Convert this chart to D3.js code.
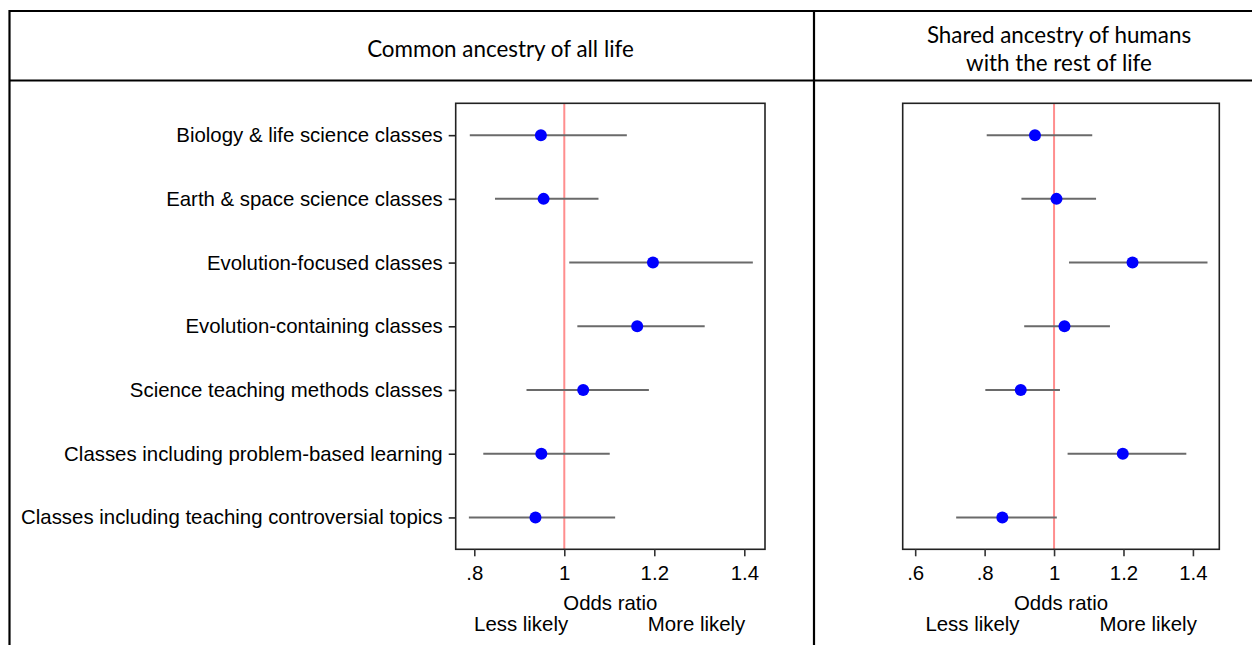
<!DOCTYPE html>
<html>
<head>
<meta charset="utf-8">
<script src="https://cdn.jsdelivr.net/npm/d3@7"></script>
<style>
  html, body { margin: 0; padding: 0; background: #fff; }
  svg { display: block; }
</style>
</head>
<body>
<svg id="chart" width="1252" height="645"></svg>
<script>
const categories = [
  "Biology & life science classes",
  "Earth & space science classes",
  "Evolution-focused classes",
  "Evolution-containing classes",
  "Science teaching methods classes",
  "Classes including problem-based learning",
  "Classes including teaching controversial topics"
];
const leftTitle = ["Common ancestry of all life"];
const rightTitle = ["Shared ancestry of humans", "with the rest of life"];

const leftOR = [0.948, 0.954, 1.197, 1.162, 1.042, 0.949, 0.936];
const leftLo = [0.790, 0.846, 1.011, 1.029, 0.916, 0.820, 0.788];
const leftHi = [1.139, 1.076, 1.419, 1.312, 1.188, 1.101, 1.113];

const rightOR = [0.945, 1.007, 1.226, 1.030, 0.904, 1.198, 0.851];
const rightLo = [0.806, 0.906, 1.043, 0.914, 0.802, 1.039, 0.718];
const rightHi = [1.110, 1.121, 1.442, 1.161, 1.017, 1.381, 1.008];

const leftTicks = [0.8, 1, 1.2, 1.4];
const rightTicks = [0.6, 0.8, 1, 1.2, 1.4];
const leftDomain = [0.7587, 1.446];
const rightDomain = [0.564, 1.476];
const leftHintPos = [0.904, 1.294];
const rightHintPos = [0.765, 1.271];
const xTitle = "Odds ratio";
const hints = ["Less likely", "More likely"];

const svg = d3.select("#chart");
const FONT = "'Liberation Sans', Arial, sans-serif";
const HFONT = "Lato, 'Open Sans', sans-serif";
const FS = 20.4;

// table frame
const frame = svg.append("g").attr("stroke", "#000").attr("stroke-width", 2.2);
frame.append("line").attr("x1", 9.5).attr("x2", 1252).attr("y1", 11).attr("y2", 11);
frame.append("line").attr("x1", 9.5).attr("x2", 1252).attr("y1", 80.5).attr("y2", 80.5);
frame.append("line").attr("x1", 9.5).attr("x2", 9.5).attr("y1", 10).attr("y2", 645);
frame.append("line").attr("x1", 814).attr("x2", 814).attr("y1", 10).attr("y2", 645);

// headers
function header(lines, cx, ys) {
  svg.append("g").selectAll("text").data(lines).join("text")
    .attr("x", cx).attr("y", (d, i) => ys[i])
    .attr("text-anchor", "middle")
    .attr("font-family", HFONT).attr("font-size", 22.4).attr("fill", "#000")
    .text(d => d);
}
header(leftTitle, 500.5, [56.5]);
header(rightTitle, 1059, [43, 70.5]);

const fmt = d => d === 1 ? "1" : String(d).replace(/^0/, "");

function panel(opts) {
  const { x0, x1, domain, ticks, or, lo, hi, showY, hintPos } = opts;
  const top = 103.3, bottom = 549.3;
  const x = d3.scaleLinear().domain(domain).range([x0, x1]);
  const y = d3.scalePoint().domain(categories).range([top, bottom]).padding(0.5);
  const g = svg.append("g");

  // reference line
  g.append("line")
    .attr("x1", x(1)).attr("x2", x(1)).attr("y1", top).attr("y2", bottom)
    .attr("stroke", "#ff8e8e").attr("stroke-width", 2);

  // CIs
  g.append("g").selectAll("line").data(categories).join("line")
    .attr("x1", (d, i) => x(lo[i])).attr("x2", (d, i) => x(hi[i]))
    .attr("y1", d => y(d)).attr("y2", d => y(d))
    .attr("stroke", "#6a6a6a").attr("stroke-width", 2);

  // points
  g.append("g").selectAll("circle").data(categories).join("circle")
    .attr("cx", (d, i) => x(or[i])).attr("cy", d => y(d))
    .attr("r", 6).attr("fill", "#0000ff");

  // box
  g.append("rect").attr("x", x0).attr("y", top).attr("width", x1 - x0).attr("height", bottom - top)
    .attr("fill", "none").attr("stroke", "#222").attr("stroke-width", 1.6);

  // x axis
  const xa = g.append("g").attr("transform", `translate(0,${bottom})`)
    .call(d3.axisBottom(x).tickValues(ticks).tickFormat(fmt).tickSize(7).tickPadding(9));
  xa.select(".domain").remove();
  xa.selectAll(".tick line").attr("stroke", "#333").attr("stroke-width", 1.6);
  xa.selectAll(".tick text").attr("font-family", FONT).attr("font-size", FS).attr("fill", "#000");

  if (showY) {
    const ya = g.append("g").attr("transform", `translate(${x0},0)`)
      .call(d3.axisLeft(y).tickSize(7).tickPadding(6));
    ya.select(".domain").remove();
    ya.selectAll(".tick line").attr("stroke", "#222").attr("stroke-width", 1.6);
    ya.selectAll(".tick text").attr("font-family", FONT).attr("font-size", FS).attr("fill", "#000");
  }

  g.append("text").attr("x", (x0 + x1) / 2).attr("y", 610)
    .attr("text-anchor", "middle").attr("font-family", FONT).attr("font-size", FS)
    .text(xTitle);
  g.append("g").selectAll("text").data(hints).join("text")
    .attr("x", (d, i) => x(hintPos[i])).attr("y", 631)
    .attr("text-anchor", "middle").attr("font-family", FONT).attr("font-size", FS)
    .text(d => d);
}

panel({ x0: 455.7, x1: 765, domain: leftDomain, ticks: leftTicks, or: leftOR, lo: leftLo, hi: leftHi, showY: true, hintPos: leftHintPos });
panel({ x0: 902.7, x1: 1219.3, domain: rightDomain, ticks: rightTicks, or: rightOR, lo: rightLo, hi: rightHi, showY: false, hintPos: rightHintPos });
</script>
</body>
</html>
